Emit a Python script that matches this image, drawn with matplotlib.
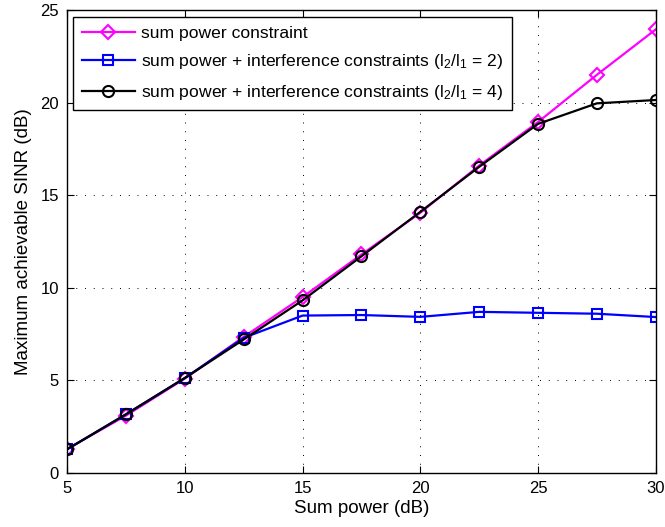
import numpy as np
import matplotlib
matplotlib.use('Agg')
import matplotlib.pyplot as plt

plt.rcParams['font.family'] = ['Liberation Sans', 'DejaVu Sans']
plt.rcParams['mathtext.fontset'] = 'custom'
plt.rcParams['mathtext.rm'] = 'Liberation Sans'
plt.rcParams['mathtext.it'] = 'Liberation Sans'

# data
sum_power = [5, 7.5, 10, 12.5, 15, 17.5, 20, 22.5, 25, 27.5, 30]
sinr_sum = [1.3, 3.1, 5.1, 7.35, 9.5, 11.8, 14.05, 16.6, 18.95, 21.5, 23.95]
sinr_ratio2 = [1.28, 3.17, 5.13, 7.3, 8.5, 8.53, 8.43, 8.7, 8.65, 8.6, 8.42]
sinr_ratio4 = [1.28, 3.17, 5.13, 7.21, 9.32, 11.7, 14.1, 16.53, 18.85, 19.96, 20.14]

labels = ['sum power constraint',
          r'sum power + interference constraints (l$_2$/l$_1$ = 2)',
          r'sum power + interference constraints (l$_2$/l$_1$ = 4)']

fig = plt.figure(figsize=(6.65, 5.27), dpi=100)
ax = fig.add_axes([0.101, 0.1025, 0.885, 0.8785])

ax.plot(sum_power, sinr_sum, color='#ff00ff', marker='D', markersize=7.5,
        markerfacecolor='none', markeredgewidth=1.5, linewidth=1.6, label=labels[0])
ax.plot(sum_power, sinr_ratio2, color='#0000ff', marker='s', markersize=6.5,
        markerfacecolor='none', markeredgewidth=1.5, linewidth=1.6, label=labels[1])
ax.plot(sum_power, sinr_ratio4, color='black', marker='o', markersize=8,
        markerfacecolor='none', markeredgewidth=1.5, linewidth=1.6, label=labels[2])

ax.set_xlim(5, 30)
ax.set_ylim(0, 25)
ax.set_xticks([5, 10, 15, 20, 25, 30])
ax.set_yticks([0, 5, 10, 15, 20, 25])
ax.tick_params(direction='in', top=True, right=True, labelsize=12, length=5, pad=6)
ax.grid(True, color='black', linestyle=(0, (1, 8)), linewidth=0.7)
for s in ax.spines.values():
    s.set_linewidth(1.0)

ax.set_xlabel('Sum power (dB)', fontsize=13.5, labelpad=3)
ax.set_ylabel('Maximum achievable SINR (dB)', fontsize=13.5, labelpad=6)

leg = ax.legend(loc='upper left', bbox_to_anchor=(0.0105, 0.985), fontsize=12.6,
                fancybox=False, framealpha=1, edgecolor='black', borderaxespad=0,
                handlelength=3.0, labelspacing=0.65, borderpad=0.5, handletextpad=0.35)
leg.get_frame().set_linewidth(1.0)

fig.savefig('out.png', dpi=100)
